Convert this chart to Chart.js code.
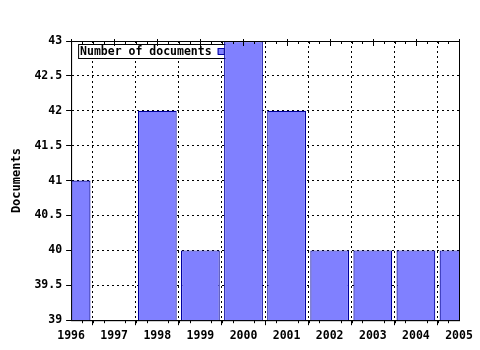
<!DOCTYPE html>
<html>
<head>
<meta charset="utf-8">
<script src="https://cdn.jsdelivr.net/npm/chart.js@4/dist/chart.umd.min.js"></script>
<style>
  html, body { margin: 0; padding: 0; background: #fff; }
  #wrap { width: 480px; height: 350px; }
</style>
</head>
<body>
<div id="wrap"><canvas id="idDocChart"></canvas></div>
<script>
    const years = ['1996', '1997', '1998', '1999', '2000', '2001', '2002', '2003', '2004', '2005'];
    const documents = [41, null, 42, 40, 43, 42, 40, 40, 40, 40];
    const yTicks = [39, 39.5, 40, 40.5, 41, 41.5, 42, 42.5, 43];
    const seriesLabel = 'Number of documents';

    const monoFont = { family: 'DejaVu Sans Mono', size: 11.5, weight: 'bold' };

    // frame, minor ticks and the boxed legend
    const framePlugin = {
        id: 'frame',
        beforeDatasetsDraw(chart) {
            const ctx = chart.ctx;
            const a = chart.chartArea;
            ctx.save();
            // legend box (drawn under the bars)
            ctx.font = 'bold 11.5px "DejaVu Sans Mono"';
            const tw = ctx.measureText(seriesLabel).width;
            const bx = a.left + 7, by = a.top + 3, bh = 14;
            const bw = tw + 22;
            ctx.fillStyle = '#fff';
            ctx.fillRect(bx, by, bw, bh);
            ctx.strokeStyle = '#000';
            ctx.lineWidth = 1;
            ctx.strokeRect(bx + 0.5, by + 0.5, bw, bh);
            ctx.fillStyle = '#000';
            ctx.textBaseline = 'middle';
            ctx.fillText(seriesLabel, bx + 2, by + bh / 2 + 1);
            ctx.fillStyle = 'rgb(128,128,255)';
            ctx.strokeStyle = '#0000a0';
            ctx.fillRect(bx + tw + 8, by + 4, 6, 6);
            ctx.strokeRect(bx + tw + 8.5, by + 4.5, 6, 6);
            ctx.restore();
        },
        afterDraw(chart) {
            const ctx = chart.ctx;
            const a = chart.chartArea;
            const xs = chart.scales.x;
            ctx.save();
            ctx.strokeStyle = '#000';
            ctx.lineWidth = 1;
            ctx.setLineDash([]);
            ctx.beginPath();
            // solid frame
            ctx.moveTo(a.left, a.top + 0.5);
            ctx.lineTo(a.right, a.top + 0.5);
            ctx.moveTo(a.right + 0.5, a.top);
            ctx.lineTo(a.right + 0.5, a.bottom);
            ctx.moveTo(a.left + 0.5, a.top);
            ctx.lineTo(a.left + 0.5, a.bottom);
            ctx.moveTo(a.left, a.bottom + 0.5);
            ctx.lineTo(a.right + 1, a.bottom + 0.5);
            for (let i = 0; i < years.length; i++) {
                const p = Math.round(xs.getPixelForValue(i)) + 0.5;
                ctx.moveTo(p, a.top - 2);
                ctx.lineTo(p, a.top + 5);
                if (i < years.length - 1) {
                    const q = xs.getPixelForValue(i + 1);
                    for (let k = 1; k < 4; k++) {
                        const m = Math.round(p + (q - p) * k / 4) + 0.5;
                        ctx.moveTo(m, a.top);
                        ctx.lineTo(m, a.top + 3);
                        ctx.moveTo(m, a.bottom);
                        ctx.lineTo(m, a.bottom + 3);
                    }
                }
            }
            ctx.stroke();
            ctx.restore();
        }
    };

    var data = {
        labels: years,
        datasets: [{
            label: seriesLabel,
            data: documents,
            backgroundColor: 'rgb(128, 128, 255)',
            borderColor: '#0000a0',
            borderWidth: 1.2,
            borderSkipped: false,
            barPercentage: 0.9,
            categoryPercentage: 1.0
        }]
    };

    var options = {
        responsive: true,
        maintainAspectRatio: false,
        animation: false,
        layout: {
            padding: { left: 10, right: 21, top: 41, bottom: 3 }
        },
        plugins: {
            legend: { display: false },
            tooltip: { enabled: false }
        },
        scales: {
            x: {
                offset: false,
                afterFit: (scale) => { scale.paddingLeft = 0; scale.paddingRight = 0; },
                grid: {
                    color: '#000',
                    tickColor: '#000',
                    tickBorderDash: [],
                    tickLength: 5,
                    drawOnChartArea: true
                },
                border: { display: true, color: '#000', width: 1, dash: [2, 3] },
                ticks: {
                    color: '#000',
                    font: monoFont,
                    padding: 4,
                    maxRotation: 0,
                    autoSkip: false
                }
            },
            y: {
                min: 39,
                max: 43,
                afterBuildTicks: (scale) => { scale.ticks = yTicks.map(v => ({ value: v })); },
                grid: {
                    color: '#000',
                    tickColor: '#000',
                    tickBorderDash: [],
                    tickLength: 5
                },
                border: { display: true, color: '#000', width: 1, dash: [2, 3] },
                ticks: {
                    color: '#000',
                    font: monoFont,
                    padding: 4,
                    callback: (v) => String(v)
                },
                title: {
                    display: true,
                    text: 'Documents',
                    color: '#000',
                    font: { family: 'DejaVu Sans Mono', size: 12, weight: 'bold' },
                    padding: { top: 0, bottom: 6 }
                }
            }
        }
    };

    var ctx = document.getElementById('idDocChart').getContext('2d');
    var idDocChart = new Chart(ctx, {
        type: 'bar',
        data: data,
        options: options,
        plugins: [framePlugin]
    });
</script>
</body>
</html>
